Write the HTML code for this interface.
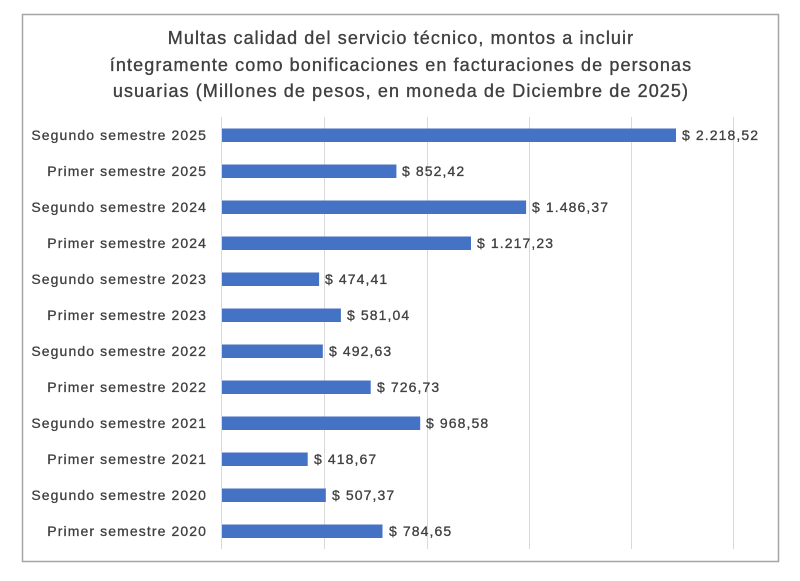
<!DOCTYPE html>
<html><head><meta charset="utf-8"><style>
body{margin:0;background:#fff;width:800px;height:576px;overflow:hidden}
</style></head><body>
<svg width="800" height="576" xmlns="http://www.w3.org/2000/svg" font-family="Liberation Sans, sans-serif">
<rect x="22.5" y="14.5" width="756" height="547" fill="#fff" stroke="#a6a6a6" stroke-width="1.5"/>
<g font-size="18" fill="#404040" stroke="#404040" stroke-width="0.35" text-anchor="middle" letter-spacing="1.1">
<text x="401" y="44">Multas calidad del servicio técnico, montos a incluir</text>
<text x="401" y="71">íntegramente como bonificaciones en facturaciones de personas</text>
<text x="401" y="97">usuarias (Millones de pesos, en moneda de Diciembre de 2025)</text>
</g>
<g stroke="#d9d9d9" stroke-width="1">
<line x1="324.5" y1="117" x2="324.5" y2="549"/>
<line x1="427.5" y1="117" x2="427.5" y2="549"/>
<line x1="529.5" y1="117" x2="529.5" y2="549"/>
<line x1="631.5" y1="117" x2="631.5" y2="549"/>
<line x1="733.5" y1="117" x2="733.5" y2="549"/>
<line x1="221.5" y1="117" x2="221.5" y2="549"/>
</g>
<g font-size="14" fill="#404040" stroke="#404040" stroke-width="0.3" letter-spacing="1.1">
<g text-anchor="end">
<text x="207" y="140">Segundo semestre 2025</text>
<text x="207" y="176">Primer semestre 2025</text>
<text x="207" y="212">Segundo semestre 2024</text>
<text x="207" y="248">Primer semestre 2024</text>
<text x="207" y="284">Segundo semestre 2023</text>
<text x="207" y="320">Primer semestre 2023</text>
<text x="207" y="356">Segundo semestre 2022</text>
<text x="207" y="392">Primer semestre 2022</text>
<text x="207" y="428">Segundo semestre 2021</text>
<text x="207" y="464">Primer semestre 2021</text>
<text x="207" y="500">Segundo semestre 2020</text>
<text x="207" y="536">Primer semestre 2020</text>
</g>
<text x="682" y="140">$ 2.218,52</text>
<text x="402" y="176">$ 852,42</text>
<text x="532" y="212">$ 1.486,37</text>
<text x="477" y="248">$ 1.217,23</text>
<text x="325" y="284">$ 474,41</text>
<text x="347" y="320">$ 581,04</text>
<text x="329" y="356">$ 492,63</text>
<text x="377" y="392">$ 726,73</text>
<text x="426" y="428">$ 968,58</text>
<text x="314" y="464">$ 418,67</text>
<text x="332" y="500">$ 507,37</text>
<text x="389" y="536">$ 784,65</text>
</g>
<g fill="#4472c4">
<rect x="222" y="128.5" width="454" height="13.5"/>
<rect x="222" y="164.5" width="174.4" height="13.5"/>
<rect x="222" y="200.5" width="304.1" height="13.5"/>
<rect x="222" y="236.5" width="249" height="13.5"/>
<rect x="222" y="272.5" width="97.1" height="13.5"/>
<rect x="222" y="308.5" width="118.9" height="13.5"/>
<rect x="222" y="344.5" width="100.8" height="13.5"/>
<rect x="222" y="380.5" width="148.7" height="13.5"/>
<rect x="222" y="416.5" width="198.2" height="13.5"/>
<rect x="222" y="452.5" width="85.7" height="13.5"/>
<rect x="222" y="488.5" width="103.8" height="13.5"/>
<rect x="222" y="524.5" width="160.5" height="13.5"/>
</g>
</svg>
</body></html>
